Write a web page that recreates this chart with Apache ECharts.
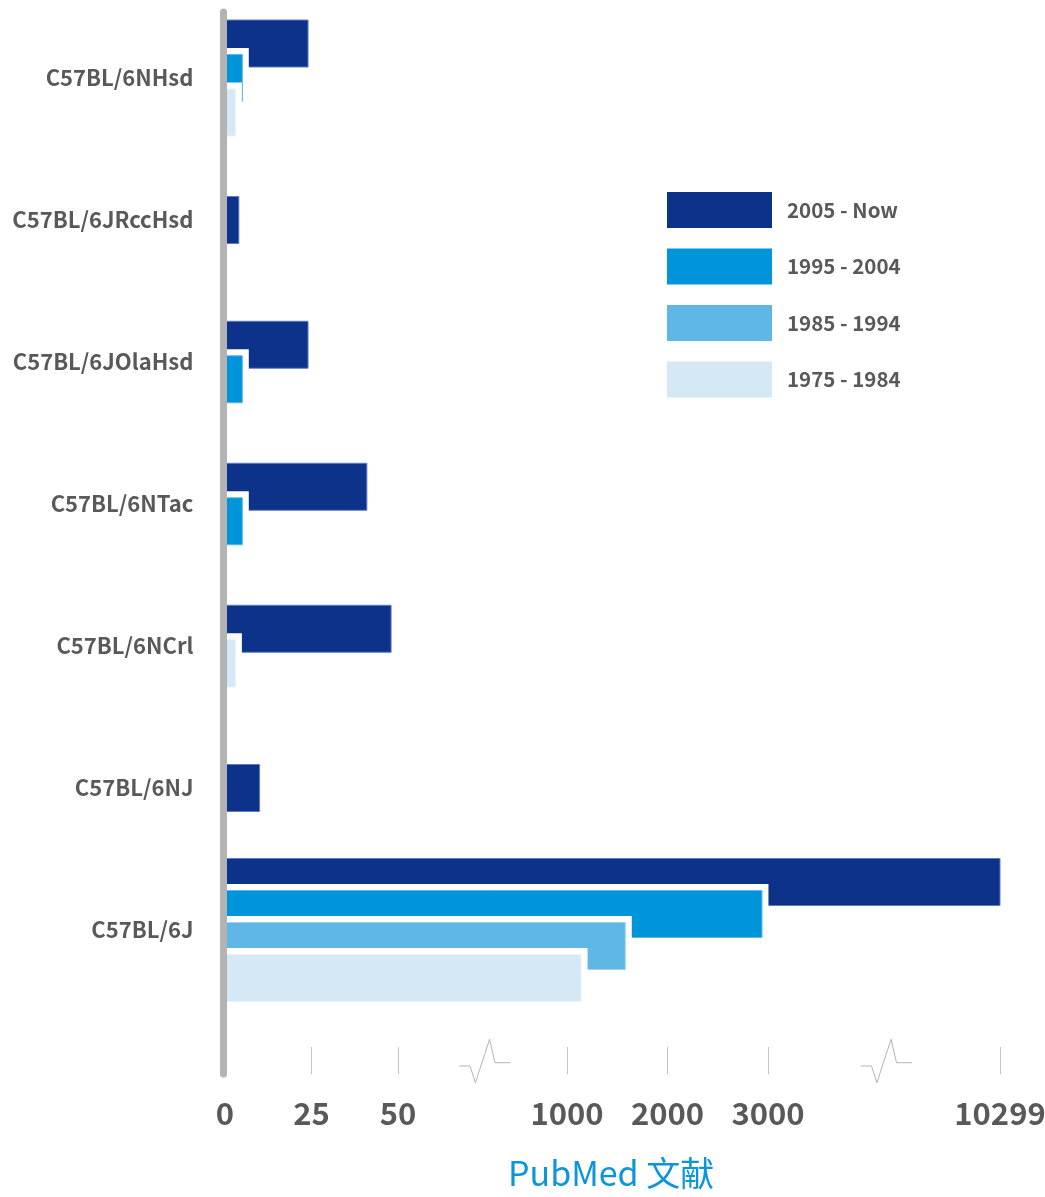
<!DOCTYPE html>
<html>
<head>
<meta charset="utf-8">
<title>PubMed 文献</title>
<script src="https://cdn.jsdelivr.net/npm/echarts@6.0.0/dist/echarts.min.js"></script>
<style>
  html, body { margin: 0; padding: 0; background: #ffffff; }
  #chart { width: 1045px; height: 1197px; }
</style>
</head>
<body>
<div id="chart"></div>
<script>
// Strains (top to bottom) and publication periods
const strains = ['C57BL/6NHsd', 'C57BL/6JRccHsd', 'C57BL/6JOlaHsd', 'C57BL/6NTac', 'C57BL/6NCrl', 'C57BL/6NJ', 'C57BL/6J'];
const periods = ['2005 - Now', '1995 - 2004', '1985 - 1994', '1975 - 1984'];

// PubMed publication counts per strain, one array per period
const pubs2005 = [24, 4, 24, 41, 48, 10, 10299];
const pubs1995 = [5, 0, 5, 5, 0, 0, 2940];
const pubs1985 = [0, 0, 0, 0, 0, 0, 1580];
const pubs1975 = [3, 0, 0, 0, 3, 0, 1140];

// Tick labels of the broken count axis, and the ranges cut out of it
const tickValues = [0, 25, 50, 1000, 2000, 3000, 10299];
const axisBreaks = [[50, 1000], [3000, 10299]];

const seriesValues = [pubs2005, pubs1995, pubs1985, pubs1975];
const colors = ['#0d3289', '#0094db', '#5fb7e6', '#d4e8f6'];
const outlines = ['#5f7dc2', '#57b8ec', '#9dd3f1', '#e6f1fa'];

// Piecewise-linear scale for the broken axis: count -> axis position
const scaleAnchors = [[0, 0], [50, 173], [1000, 342], [3000, 543], [10299, 775]];
function axisPos(v) {
  for (let i = 1; i < scaleAnchors.length; i++) {
    const [v0, p0] = scaleAnchors[i - 1];
    const [v1, p1] = scaleAnchors[i];
    if (v <= v1 || i === scaleAnchors.length - 1) {
      return p0 + (v - v0) / (v1 - v0) * (p1 - p0);
    }
  }
  return 0;
}
const tickPositions = tickValues.map(axisPos);
const tickLabelByPos = {};
tickValues.forEach((v, i) => { tickLabelByPos[tickPositions[i].toFixed(2)] = String(v); });

// Which periods have a bar for each strain (bars are packed per strain)
const present = strains.map((_, c) => seriesValues.map((arr, s) => (arr[c] > 0 ? s : -1)).filter(s => s >= 0));

const BAR_H = 47;
const HALO = 6.5;

function renderBar(params, api) {
  const s = params.seriesIndex;
  const c = api.value(1);
  const list = present[c];
  const n = list.length;
  const slot = list.indexOf(s);
  const step = n >= 4 ? 32 : 34.5;
  const base = api.coord([0, c]);
  const end = api.coord([api.value(0), c]);
  const top = base[1] - (BAR_H + (n - 1) * step) / 2 + slot * step;
  const w = end[0] - base[0];
  return {
    type: 'group',
    children: [
      { type: 'rect', shape: { x: base[0], y: top - HALO, width: w + HALO, height: BAR_H + HALO }, style: { fill: '#ffffff' } },
      { type: 'rect', shape: { x: base[0], y: top, width: w, height: BAR_H }, style: { fill: colors[s], stroke: outlines[s], lineWidth: 1 } }
    ]
  };
}

function renderBreak(params, api) {
  const cs = params.coordSys;
  const baseY = cs.y + cs.height;
  const cx = api.coord([api.value(0), 0])[0];
  const pts = [[-23.3, -8], [-12.5, -8], [-7.1, 8.7], [7.1, -34.7], [12.5, -11.3], [27.8, -11.3]]
    .map(p => [cx + p[0], baseY + p[1]]);
  return { type: 'polyline', shape: { points: pts }, style: { stroke: '#b4b4b4', lineWidth: 1, fill: null }, silent: true };
}

const FONT = '"Noto Sans CJK SC", "Noto Sans", sans-serif';

const barSeries = periods.map((name, s) => ({
  name: name,
  type: 'custom',
  coordinateSystem: 'cartesian2d',
  clip: false,
  z: 2,
  itemStyle: { color: colors[s] },
  encode: { x: 0, y: 1 },
  renderItem: renderBar,
  data: seriesValues[s].map((v, c) => [axisPos(v), c, v]).filter(d => d[2] > 0)
}));

const breakSeries = {
  name: 'axis-breaks',
  type: 'custom',
  coordinateSystem: 'cartesian2d',
  clip: false,
  silent: true,
  z: 1,
  encode: { x: 0, y: 1 },
  renderItem: renderBreak,
  data: axisBreaks.map(([a, b]) => [(axisPos(a) + axisPos(b)) / 2, 0])
};

const chart = echarts.init(document.getElementById('chart'), null, { renderer: 'canvas' });
chart.setOption({
  backgroundColor: '#ffffff',
  animation: false,
  textStyle: { fontFamily: FONT },
  title: {
    text: 'PubMed 文献',
    left: 508,
    top: 1156,
    padding: 0,
    textStyle: { color: '#0a96d8', fontSize: 34, fontWeight: 'normal', fontFamily: FONT }
  },
  legend: {
    data: periods,
    orient: 'vertical',
    left: 667,
    top: 192,
    padding: 0,
    itemWidth: 105,
    itemHeight: 36,
    itemGap: 20.5,
    icon: 'rect',
    selectedMode: false,
    textStyle: { color: '#595959', fontSize: 20.5, fontWeight: 'bold', fontFamily: FONT, padding: [3, 0, 0, 10] }
  },
  grid: { left: 225, top: 12, width: 800, bottom: 123, containLabel: false, outerBoundsMode: 'none' },
  xAxis: {
    type: 'value',
    min: 0,
    max: 800,
    axisLine: { show: false, onZero: false },
    splitLine: { show: false },
    axisTick: {
      show: true,
      inside: true,
      length: 27,
      customValues: tickPositions.slice(1),
      lineStyle: { color: '#c4c4c4', width: 1 }
    },
    axisLabel: {
      customValues: tickPositions,
      margin: 24,
      color: '#595959',
      fontSize: 31,
      fontWeight: 'bold',
      fontFamily: FONT,
      formatter: v => tickLabelByPos[Number(v).toFixed(2)] || ''
    }
  },
  yAxis: {
    type: 'value',
    inverse: true,
    min: -0.465,
    max: 7.014,
    offset: 1.6,
    z: 5,
    axisLine: { show: true, onZero: false, lineStyle: { color: '#b3b3b3', width: 7 } },
    axisTick: { show: false },
    splitLine: { show: false },
    axisLabel: {
      customValues: strains.map((_, i) => i),
      margin: 30,
      color: '#595959',
      fontSize: 22,
      fontWeight: 'bold',
      fontFamily: FONT,
      formatter: v => strains[Math.round(v)] || ''
    }
  },
  series: barSeries.concat([breakSeries])
});
</script>
</body>
</html>
